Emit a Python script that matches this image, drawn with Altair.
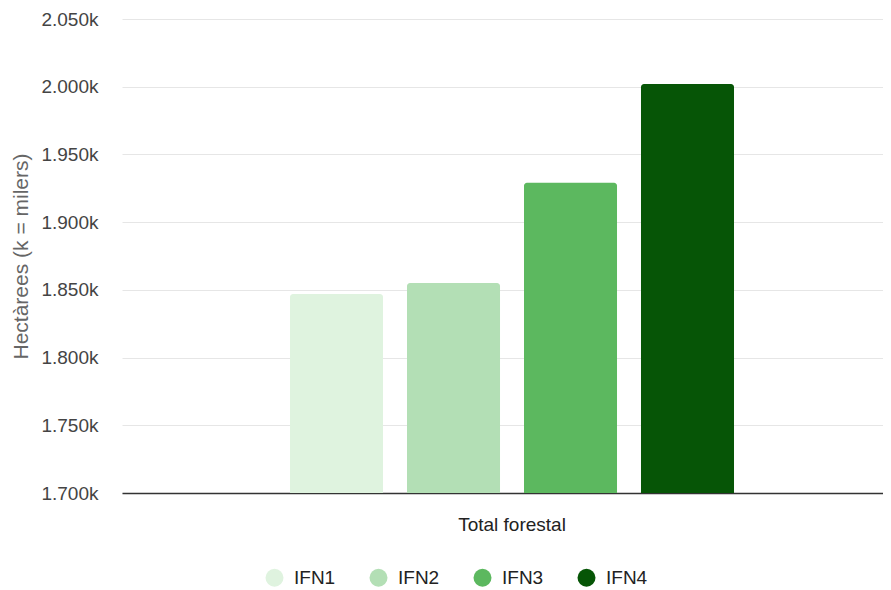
import altair as alt
import pandas as pd

series = ["IFN1", "IFN2", "IFN3", "IFN4"]
values = [1847, 1855, 1929, 2002]  # thousands of hectares
category = "Total forestal"
colors = ["#DFF3DF", "#B3DFB5", "#5CB85F", "#065506"]
y_ticks = [1700, 1750, 1800, 1850, 1900, 1950, 2000, 2050]
y_title = "Hectàrees (k = milers)"

df = pd.DataFrame({"cat": [category] * len(series), "serie": series, "val": values})

FONT = "Liberation Sans"

chart = alt.Chart(df).mark_bar(
    cornerRadiusTopLeft=3, cornerRadiusTopRight=3, clip=True
).encode(
    x=alt.X("cat:N", title=None,
            scale=alt.Scale(paddingInner=0, paddingOuter=0.357, align=0.53),
            axis=alt.Axis(labelAngle=0, ticks=False, tickSize=0, labelPadding=22,
                          labelFontSize=19, labelColor="#222", labelFont=FONT,
                          domain=True, domainColor="#333", domainWidth=1.3)),
    xOffset=alt.XOffset("serie:N", sort=series,
                        scale=alt.Scale(paddingInner=0.205, paddingOuter=0)),
    y=alt.Y("val:Q", title=y_title, stack=None,
            scale=alt.Scale(domain=[y_ticks[0], y_ticks[-1]], zero=False, nice=False),
            axis=alt.Axis(values=y_ticks, ticks=False, tickSize=0, domain=False,
                          labelPadding=24, labelFontSize=19, labelColor="#444",
                          labelFont=FONT, titleFont=FONT, titleFontSize=21,
                          titleFontWeight="normal", titleColor="#666", titlePadding=9,
                          gridColor="#E6E6E6", gridWidth=1,
                          labelExpr="replace(format(datum.value, ','), ',', '.') + 'k'")),
    y2=alt.datum(y_ticks[0]),
    color=alt.Color("serie:N", sort=series,
                    scale=alt.Scale(domain=series, range=colors),
                    legend=alt.Legend(title=None, orient="none", direction="horizontal",
                                      legendX=143, legendY=549, columns=4,
                                      symbolType="circle", symbolSize=324,
                                      symbolStrokeWidth=0, labelFontSize=19,
                                      labelFont=FONT, labelColor="#222",
                                      labelOffset=10, columnPadding=33)),
).properties(
    width=761, height=474,
    padding={"left": 2, "top": 2, "right": 0, "bottom": 0},
).configure_view(stroke=None).configure_axis(labelFont=FONT)

chart.save("out.html", embed_options={"renderer": "svg", "actions": False})
